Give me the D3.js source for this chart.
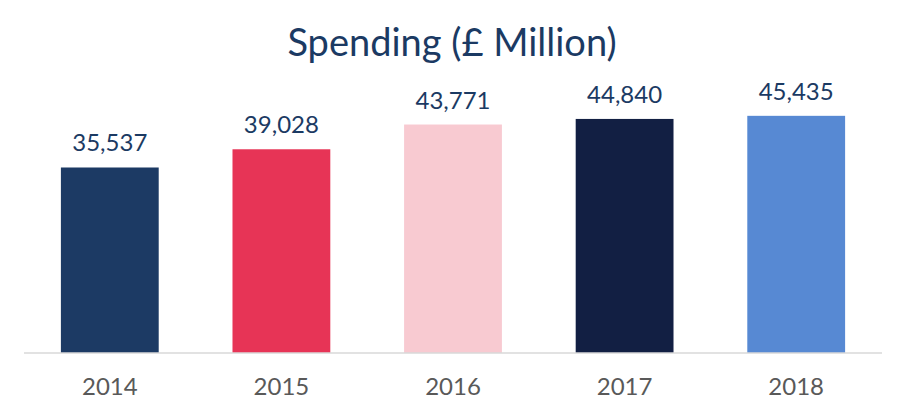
<!DOCTYPE html>
<html>
<head>
<meta charset="utf-8">
<script src="https://cdn.jsdelivr.net/npm/d3@7"></script>
<style>
  body { margin: 0; background: #fff; }
  svg { display: block; }
</style>
</head>
<body>
<svg width="904" height="416"></svg>
<script>
const width = 904
const height = 416

const years = ["2014", "2015", "2016", "2017", "2018"]
const spending = [35537, 39028, 43771, 44840, 45435]
const barColors = ["#1c3a64", "#e73456", "#f8cad1", "#121f43", "#5789d3"]

const margin = { top: 92, right: 22, bottom: 63, left: 24 }

const svg = d3.select("svg")

const x = d3.scaleBand()
    .domain(years)
    .range([margin.left, width - margin.right])
    .paddingInner(0.43)
    .paddingOuter(0.215)

const y = d3.scaleLinear()
    .domain([0, 50000])
    .range([height - margin.bottom, margin.top])

// title
svg.append("text")
    .attr("x", 452)
    .attr("y", 56)
    .attr("text-anchor", "middle")
    .attr("font-family", "Lato, sans-serif")
    .attr("font-size", 38)
    .attr("fill", "#1b3a63")
    .text("Spending (£ Million)")

svg.selectAll("rect.bar")
    .data(spending)
    .enter()
    .append("rect")
    .attr("class", "bar")
    .attr("x", (d, i) => x(years[i]))
    .attr("y", d => y(d))
    .attr("width", x.bandwidth())
    .attr("height", d => y(0) - y(d))
    .attr("fill", (d, i) => barColors[i])

// value labels
svg.selectAll("text.val")
    .data(spending)
    .enter()
    .append("text")
    .attr("class", "val")
    .attr("x", (d, i) => x(years[i]) + x.bandwidth() / 2)
    .attr("y", d => y(d) - 16)
    .attr("text-anchor", "middle")
    .attr("font-family", "Lato, sans-serif")
    .attr("font-size", 24)
    .attr("fill", "#1b3a63")
    .text(d => d3.format(",")(d))

// x axis
const xAxis = svg.append("g")
    .attr("transform", `translate(0,${y(0)})`)
    .call(d3.axisBottom(x).tickSize(0).tickPadding(25))

xAxis.select(".domain")
    .attr("stroke", "#d9d9d9")
    .attr("stroke-width", 1.5)
    .attr("d", `M${margin.left},0H${width - margin.right}`)

xAxis.selectAll("text")
    .attr("font-family", "Lato, sans-serif")
    .attr("font-size", 24)
    .attr("fill", "#595959")
</script>
</body>
</html>
